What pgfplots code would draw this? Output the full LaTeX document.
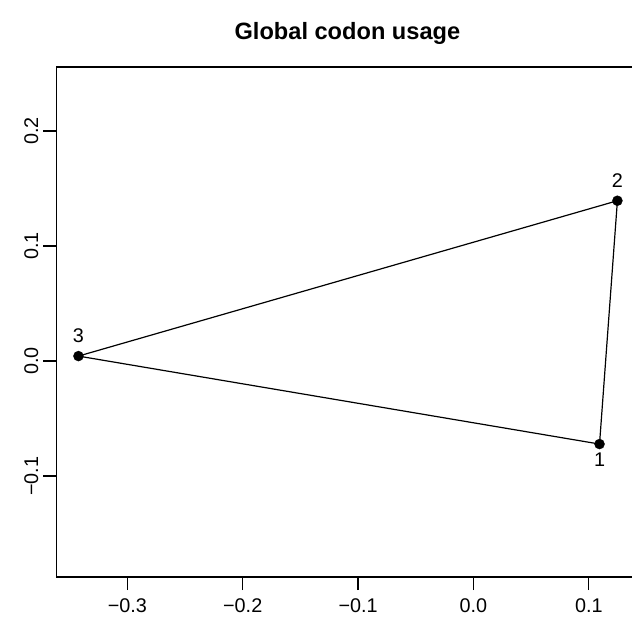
\documentclass[border=0pt]{standalone}
\usepackage{fontspec}
\setmainfont{Liberation Sans}
\usepackage{pgfplots}
\usepackage{pgfplotstable}
\pgfplotsset{compat=1.18}

% PCA-like coordinates of the three samples
\pgfplotstableread{
x y lab
0.1248 0.1394 2
-0.3424 0.0043 3
}\ptsup
\pgfplotstableread{
x y lab
0.1093 -0.0722 1
}\ptsdown

\begin{document}
\begin{tikzpicture}[x=1bp,y=1bp]
\fill[white] (0,0) rectangle (632,625);
\begin{axis}[
    at={(56.3bp,48bp)}, anchor=south west,
    scale only axis, width=582.2bp, height=510bp,
    xmin=-0.3616, xmax=0.1431,
    ymin=-0.1878, ymax=0.2557,
    axis line style={line width=1.2bp},
    xtick={-0.3,-0.2,-0.1,0,0.1},
    xticklabels={{−0.3},{−0.2},{−0.1},{0.0},{0.1}},
    ytick={-0.1,0,0.1,0.2},
    yticklabels={{−0.1},{0.0},{0.1},{0.2}},
    xtick pos=left, ytick pos=left,
    tick align=outside, major tick length=13bp,
    tick style={black, line width=1.2bp},
    ticklabel style={font=\fontsize{19.8bp}{23bp}\selectfont, inner sep=0pt},
    xticklabel style={anchor=center},
    xticklabel shift=16bp,
    yticklabel style={rotate=90, anchor=center},
    yticklabel shift=12bp,
    title={Global codon usage},
    title style={at={(0.5,1)}, anchor=base, yshift=22bp, inner sep=0pt,
        font=\bfseries\fontsize{23.6bp}{28bp}\selectfont},
    clip=false,
]
\addplot[black, line width=1.2bp, mark=none]
    coordinates {(0.1093,-0.0722) (0.1248,0.1394) (-0.3424,0.0043) (0.1093,-0.0722)};
\addplot[only marks, mark=*, mark size=5bp, black,
    nodes near coords, point meta=explicit symbolic,
    every node near coord/.append style={anchor=south, inner sep=0pt, yshift=13bp,
        font=\fontsize{19.8bp}{23bp}\selectfont}]
    table[x=x, y=y, meta=lab] {\ptsup};
\addplot[only marks, mark=*, mark size=5bp, black,
    nodes near coords, point meta=explicit symbolic,
    every node near coord/.append style={anchor=north, inner sep=0pt, yshift=-9bp,
        font=\fontsize{19.8bp}{23bp}\selectfont}]
    table[x=x, y=y, meta=lab] {\ptsdown};
\end{axis}
\pgfresetboundingbox
\path[use as bounding box] (0,0) rectangle (632,625);
\end{tikzpicture}
\end{document}
